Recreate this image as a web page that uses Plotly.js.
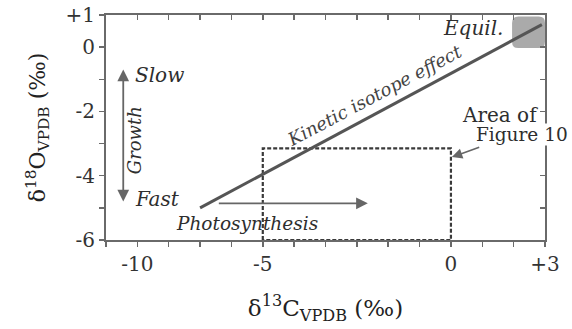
<!DOCTYPE html>
<html><head><meta charset="utf-8">
<script src="https://cdn.plot.ly/plotly-3.0.1.min.js"></script>
<style>html,body{margin:0;padding:0;background:#fff}#c{width:572px;height:329px}</style>
</head><body><div id="c"></div>
<script>
// Data
const xTickVals = [-10, -6, 0, 3];
const xTickText = ['-10', '-5', '0', '+3'];
const yTickVals = [1, 0, -2, -4, -6];
const yTickText = ['+1', '0', '-2', '-4', '-6'];
const kineticX = [-8, 2.9];
const kineticY = [-5, 0.7];
const areaBoxX = [-6, -6, 0, 0, -6];
const areaBoxY = [-6, -3.15, -3.15, -6, -6];
const equilX = [1.95, 3.0];
const equilY = [-0.03, 0.95];
const growthX = [-10.45, -10.45];
const growthY = [-0.65, -4.8];
const photoX = [-7.45, -2.65];
const photoY = [-4.86, -4.86];
const areaArrowX = [0.95, 0.03];
const areaArrowY = [-3.1, -3.42];

const serif = "DejaVu Serif";
const axCol = '#6a6a6a';
const txtCol = '#2e2e2e';

function allTicks(lo, hi, vals, texts) {
  const tv = [], tt = [];
  for (let v = lo; v <= hi; v++) {
    tv.push(v);
    const i = vals.indexOf(v);
    tt.push(i >= 0 ? texts[i] : '');
  }
  return {tickvals: tv, ticktext: tt};
}

const traces = [
  {x: areaBoxX, y: areaBoxY, mode: 'lines', cliponaxis: false,
   line: {color: '#3a3a3a', width: 2.2, dash: '4px,2px'}, hoverinfo: 'skip'},
  {x: kineticX, y: kineticY, mode: 'lines',
   line: {color: '#555', width: 3}, hoverinfo: 'skip'},
  {x: [0], y: [0], xaxis: 'x2', yaxis: 'y2', mode: 'markers',
   marker: {opacity: 0}, hoverinfo: 'skip'}
];

const rx = 0.2, ry = 0.2;
const [ex0, ex1] = equilX, [ey0, ey1] = equilY;
const equilPath = `M ${ex0+rx},${ey0} L ${ex1-rx},${ey0} Q ${ex1},${ey0} ${ex1},${ey0+ry} L ${ex1},${ey1-ry} Q ${ex1},${ey1} ${ex1-rx},${ey1} L ${ex0+rx},${ey1} Q ${ex0},${ey1} ${ex0},${ey1-ry} L ${ex0},${ey0+ry} Q ${ex0},${ey0} ${ex0+rx},${ey0} Z`;

function txt(x, y, text, opt) {
  return Object.assign({x, y, xref: 'x', yref: 'y', text, showarrow: false,
    font: {family: serif, size: 20, color: txtCol}}, opt || {});
}
function arrow(xs, ys, opt) {
  return Object.assign({x: xs[1], y: ys[1], ax: xs[0], ay: ys[0], xref: 'x', yref: 'y',
    axref: 'x', ayref: 'y', text: '', showarrow: true, arrowhead: 2, arrowsize: 1.3,
    arrowwidth: 1.8, arrowcolor: '#666'}, opt || {});
}

const annotations = [
  txt(2.28, -2.72, 'Figure 10', {bgcolor: '#fff', borderpad: 0, font: {family: serif, size: 18.5, color: txtCol}}),
  txt(1.55, -2.12, 'Area of'),
  txt(-10.15, -0.87, '<i>Slow</i>', {xanchor: 'left'}),
  txt(-10.15, -4.72, '<i>Fast</i>', {xanchor: 'left'}),
  txt(-10.08, -2.9, '<i>Growth</i>', {textangle: -90, font: {family: serif, size: 18, color: txtCol}}),
  txt(1.72, 0.6, '<i>Equil.</i>', {xanchor: 'right'}),
  txt(-2.45, -1.5, '<i>Kinetic isotope effect</i>', {textangle: -28, font: {family: serif, size: 18, color: '#444'}}),
  txt(-6.5, -5.5, '<i>Photosynthesis</i>', {font: {family: serif, size: 18.5, color: txtCol}}),
  arrow(growthX, growthY, {arrowside: 'end+start'}),
  arrow(photoX, photoY),
  arrow(areaArrowX, areaArrowY, {arrowwidth: 1.6})
];

const baseAxis = {showgrid: false, zeroline: false, showline: true, linecolor: axCol,
  linewidth: 2, tickcolor: axCol, tickwidth: 1.5, ticklen: 5,
  tickfont: {family: serif, size: 20, color: '#333'}};

const xt = allTicks(-11, 3, xTickVals, xTickText);
const yt = allTicks(-6, 1, yTickVals, yTickText);

const layout = {
  width: 572, height: 329,
  margin: {l: 106, r: 27, t: 15, b: 89},
  paper_bgcolor: '#fff', plot_bgcolor: '#fff',
  showlegend: false,
  font: {family: serif},
  xaxis: Object.assign({}, baseAxis, {range: [-11, 3], ticks: 'outside',
    tickmode: 'array', tickvals: xt.tickvals, ticktext: xt.ticktext,
    title: {text: 'δ<sup>13</sup>C<sub>VPDB</sub> (‰)', font: {family: serif, size: 23, color: '#222'}, standoff: 25}}),
  yaxis: Object.assign({}, baseAxis, {range: [-6, 1], ticks: 'outside',
    tickmode: 'array', tickvals: yt.tickvals, ticktext: yt.ticktext,
    title: {text: 'δ<sup>18</sup>O<sub>VPDB</sub> (‰)', font: {family: serif, size: 22, color: '#222'}, standoff: 14}}),
  xaxis2: Object.assign({}, baseAxis, {range: [-11, 3], overlaying: 'x', side: 'top',
    ticks: 'inside', dtick: 1, tick0: 0, showticklabels: false}),
  yaxis2: Object.assign({}, baseAxis, {range: [-6, 1], overlaying: 'y', side: 'right',
    ticks: 'inside', dtick: 1, tick0: 0, showticklabels: false}),
  shapes: [{type: 'path', path: equilPath, xref: 'x', yref: 'y',
    fillcolor: '#aaaaaa', line: {width: 0}, layer: 'below'}],
  annotations
};

Plotly.newPlot('c', traces, layout, {staticPlot: true, displayModeBar: false});
</script></body></html>
